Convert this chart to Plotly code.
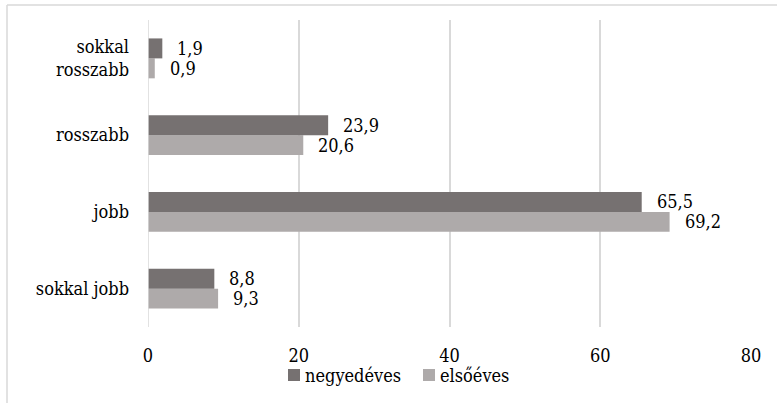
import plotly.graph_objects as go

categories = ["sokkal jobb", "jobb", "rosszabb", "sokkal<br>rosszabb"]
negyedeves = [8.8, 65.5, 23.9, 1.9]
elsoeves = [9.3, 69.2, 20.6, 0.9]
series_names = ["negyedéves", "elsőéves"]
x_ticks = [0, 20, 40, 60, 80]

W, H = 777, 403
ML, MR, MT, MB = 148, 26, 20, 76
FONT = "DejaVu Serif Condensed, DejaVu Serif"
FS = 18
DARK = "#767171"
LIGHT = "#AEAAAA"
GRID = "#d9d9d9"

fig = go.Figure()
fig.add_trace(go.Bar(y=categories, x=elsoeves, orientation="h", name=series_names[1],
                     marker=dict(color=LIGHT, line=dict(width=0)), showlegend=False,
                     hoverinfo="skip"))
fig.add_trace(go.Bar(y=categories, x=negyedeves, orientation="h", name=series_names[0],
                     marker=dict(color=DARK, line=dict(width=0)), showlegend=False,
                     hoverinfo="skip"))

def fmt(v):
    return f"{v:.1f}".replace(".", ",")

ann = []
off = 0.13
for i, (a, b) in enumerate(zip(negyedeves, elsoeves)):
    ann.append(dict(x=a, y=i + off, xref="x", yref="y", text=fmt(a), showarrow=False,
                    xanchor="left", yanchor="middle", xshift=13,
                    font=dict(family=FONT, size=FS, color="#000")))
    ann.append(dict(x=b, y=i - off, xref="x", yref="y", text=fmt(b), showarrow=False,
                    xanchor="left", yanchor="middle", xshift=13,
                    font=dict(family=FONT, size=FS, color="#000")))

pw = W - ML - MR
ph = H - MT - MB
def px(xp):
    return (xp - ML) / pw
def py(yp):
    return (H - MB - yp) / ph

shapes = [
    dict(type="line", xref="paper", yref="paper", x0=px(7), x1=px(W + 5), y0=py(5), y1=py(5),
         line=dict(color=GRID, width=1.5)),
    dict(type="line", xref="paper", yref="paper", x0=px(7), x1=px(7), y0=py(5), y1=py(H + 5),
         line=dict(color=GRID, width=1.5)),
]

# custom legend: square + text
leg_y = 375
leg_items = [(series_names[0], DARK, 288), (series_names[1], LIGHT, 423)]
for name, col, xs in leg_items:
    shapes.append(dict(type="rect", xref="paper", yref="paper",
                       x0=px(xs), x1=px(xs + 12), y0=py(leg_y + 6), y1=py(leg_y - 6),
                       fillcolor=col, line=dict(width=0)))
    ann.append(dict(x=px(xs + 15), y=py(leg_y), xref="paper", yref="paper", text=name,
                    showarrow=False, xanchor="left", yanchor="middle",
                    font=dict(family=FONT, size=FS, color="#000")))

fig.update_layout(
    width=W, height=H,
    margin=dict(l=ML, r=MR, t=MT, b=MB, pad=0),
    paper_bgcolor="white", plot_bgcolor="white",
    barmode="group", bargap=0.48, bargroupgap=0,
    font=dict(family=FONT, size=FS, color="#000"),
    xaxis=dict(range=[0, 80], tickvals=x_ticks, ticktext=[str(t) for t in x_ticks],
               showgrid=True, gridcolor=GRID, gridwidth=1.5, zeroline=False,
               showline=False, ticks="", ticklabelstandoff=16, fixedrange=True),
    yaxis=dict(type="category", categoryorder="array", categoryarray=categories,
               showgrid=False, zeroline=False, showline=False, ticks="",
               ticklabelstandoff=18, fixedrange=True),
    annotations=ann,
    shapes=shapes,
    showlegend=False,
)
fig.add_vline(x=0, line=dict(color=GRID, width=1.5))

fig.write_html("out.html", config={"displayModeBar": False},
               post_script="document.body.style.margin='0';document.body.style.overflow='hidden';")
